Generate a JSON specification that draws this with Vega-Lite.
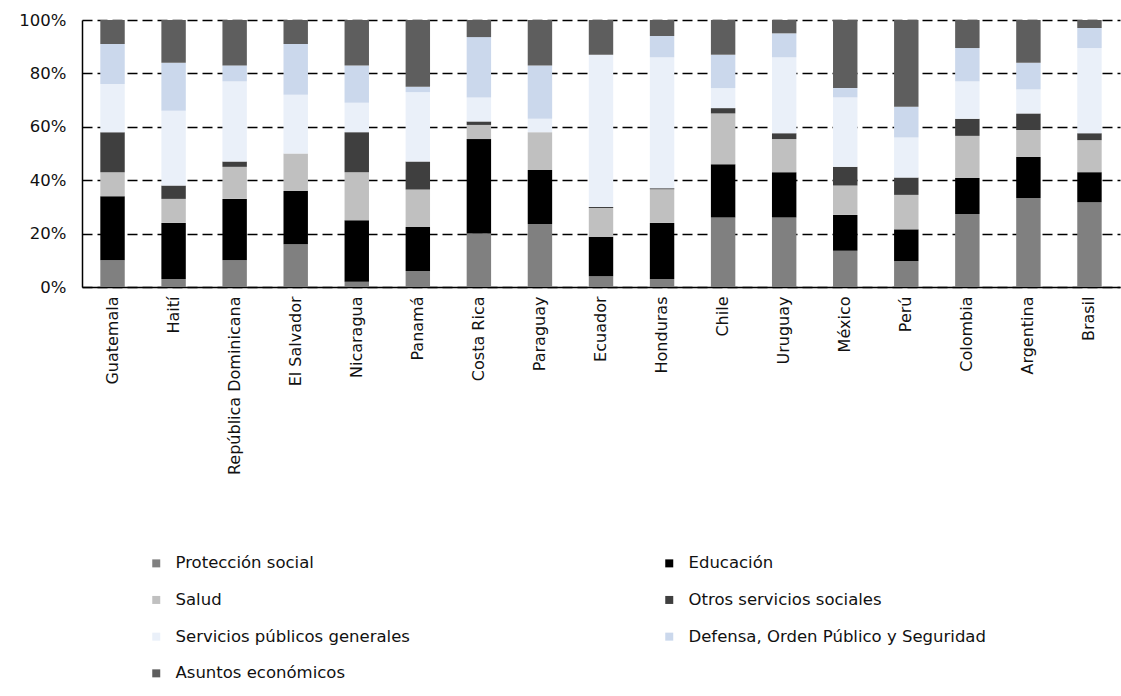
{
  "$schema": "https://vega.github.io/schema/vega-lite/v6.json",
  "autosize": "none",
  "width": 1038,
  "height": 267,
  "padding": {"left": 82, "top": 20, "right": 1, "bottom": 409},
  "background": "white",
  "config": {
    "view": {"stroke": null},
    "font": "DejaVu Sans"
  },
  "data": {
    "values": [
      {"country": "Guatemala", "Protección social": 10, "Educación": 24, "Salud": 9, "Otros servicios sociales": 15, "Servicios públicos generales": 18, "Defensa, Orden Público y Seguridad": 15, "Asuntos económicos": 9},
      {"country": "Haití", "Protección social": 3, "Educación": 21, "Salud": 9, "Otros servicios sociales": 5, "Servicios públicos generales": 28, "Defensa, Orden Público y Seguridad": 18, "Asuntos económicos": 16},
      {"country": "República Dominicana", "Protección social": 10, "Educación": 23, "Salud": 12, "Otros servicios sociales": 2, "Servicios públicos generales": 30, "Defensa, Orden Público y Seguridad": 6, "Asuntos económicos": 17},
      {"country": "El Salvador", "Protección social": 16, "Educación": 20, "Salud": 14, "Otros servicios sociales": 0, "Servicios públicos generales": 22, "Defensa, Orden Público y Seguridad": 19, "Asuntos económicos": 9},
      {"country": "Nicaragua", "Protección social": 2, "Educación": 23, "Salud": 18, "Otros servicios sociales": 15, "Servicios públicos generales": 11, "Defensa, Orden Público y Seguridad": 14, "Asuntos económicos": 17},
      {"country": "Panamá", "Protección social": 6, "Educación": 16.5, "Salud": 14, "Otros servicios sociales": 10.5, "Servicios públicos generales": 26, "Defensa, Orden Público y Seguridad": 2, "Asuntos económicos": 25},
      {"country": "Costa Rica", "Protección social": 20, "Educación": 35.4, "Salud": 5.3, "Otros servicios sociales": 1.3, "Servicios públicos generales": 9, "Defensa, Orden Público y Seguridad": 22.6, "Asuntos económicos": 6.4},
      {"country": "Paraguay", "Protección social": 23.6, "Educación": 20.2, "Salud": 14.2, "Otros servicios sociales": 0, "Servicios públicos generales": 5, "Defensa, Orden Público y Seguridad": 20, "Asuntos económicos": 17},
      {"country": "Ecuador", "Protección social": 4, "Educación": 14.8, "Salud": 10.8, "Otros servicios sociales": 0.4, "Servicios públicos generales": 57, "Defensa, Orden Público y Seguridad": 0, "Asuntos económicos": 13},
      {"country": "Honduras", "Protección social": 3, "Educación": 21, "Salud": 12.6, "Otros servicios sociales": 0.4, "Servicios públicos generales": 49, "Defensa, Orden Público y Seguridad": 8, "Asuntos económicos": 6},
      {"country": "Chile", "Protección social": 26, "Educación": 20, "Salud": 19, "Otros servicios sociales": 2, "Servicios públicos generales": 7.5, "Defensa, Orden Público y Seguridad": 12.5, "Asuntos económicos": 13},
      {"country": "Uruguay", "Protección social": 26, "Educación": 17, "Salud": 12.4, "Otros servicios sociales": 2.2, "Servicios públicos generales": 28.4, "Defensa, Orden Público y Seguridad": 9, "Asuntos económicos": 5},
      {"country": "México", "Protección social": 13.6, "Educación": 13.4, "Salud": 11, "Otros servicios sociales": 7, "Servicios públicos generales": 26, "Defensa, Orden Público y Seguridad": 3.5, "Asuntos económicos": 25.5},
      {"country": "Perú", "Protección social": 9.7, "Educación": 11.9, "Salud": 12.9, "Otros servicios sociales": 6.5, "Servicios públicos generales": 15, "Defensa, Orden Público y Seguridad": 11.5, "Asuntos económicos": 32.5},
      {"country": "Colombia", "Protección social": 27.3, "Educación": 13.5, "Salud": 15.8, "Otros servicios sociales": 6.4, "Servicios públicos generales": 14, "Defensa, Orden Público y Seguridad": 12.5, "Asuntos económicos": 10.5},
      {"country": "Argentina", "Protección social": 33.3, "Educación": 15.4, "Salud": 10.1, "Otros servicios sociales": 6.2, "Servicios públicos generales": 9, "Defensa, Orden Público y Seguridad": 10, "Asuntos económicos": 16},
      {"country": "Brasil", "Protección social": 31.8, "Educación": 11.2, "Salud": 12, "Otros servicios sociales": 2.6, "Servicios públicos generales": 31.9, "Defensa, Orden Público y Seguridad": 7.5, "Asuntos económicos": 3}
    ]
  },
  "transform": [
    {"fold": ["Protección social", "Educación", "Salud", "Otros servicios sociales", "Servicios públicos generales", "Defensa, Orden Público y Seguridad", "Asuntos económicos"], "as": ["cat", "v"]},
    {"calculate": "indexof(['Protección social','Educación','Salud','Otros servicios sociales','Servicios públicos generales','Defensa, Orden Público y Seguridad','Asuntos económicos'], datum.cat)", "as": "k"}
  ],
  "mark": {"type": "bar"},
  "encoding": {
    "x": {
      "field": "country",
      "type": "nominal",
      "sort": null,
      "scale": {"paddingInner": 0.6, "paddingOuter": 0.3},
      "axis": {
        "title": null,
        "labelAngle": -90,
        "labelFontSize": 16,
        "labelColor": "#111",
        "labelPadding": 9,
        "ticks": false,
        "domainColor": "#000",
        "domainWidth": 1.5,
        "labelLimit": 400
      }
    },
    "y": {
      "field": "v",
      "type": "quantitative",
      "stack": "normalize",
      "scale": {"domain": [0, 1], "nice": false},
      "axis": {
        "title": null,
        "format": ".0%",
        "values": [0, 0.2, 0.4, 0.6, 0.8, 1],
        "labelFontSize": 16.5,
        "labelColor": "#111",
        "labelPadding": 16,
        "ticks": false,
        "domainColor": "#000",
        "domainWidth": 1.5,
        "gridColor": "#000",
        "gridDash": [10, 5],
        "gridWidth": 1.5,
        "gridOpacity": 1
      }
    },
    "color": {
      "field": "cat",
      "type": "nominal",
      "scale": {
        "domain": ["Protección social", "Educación", "Salud", "Otros servicios sociales", "Servicios públicos generales", "Defensa, Orden Público y Seguridad", "Asuntos económicos"],
        "range": ["#808080", "#000000", "#c0c0c0", "#3f3f3f", "#eaf0f9", "#cbd8ec", "#5e5e5e"]
      },
      "legend": {
        "title": null,
        "orient": "none",
        "legendX": 66,
        "legendY": 535,
        "direction": "horizontal",
        "columns": 2,
        "columnPadding": 251,
        "rowPadding": 19.7,
        "symbolType": "square",
        "symbolSize": 64,
        "symbolStrokeWidth": 0,
        "labelFontSize": 16.5,
        "labelColor": "#111",
        "labelOffset": 11,
        "labelLimit": 500
      }
    },
    "order": {"field": "k", "type": "quantitative", "sort": "ascending"}
  }
}
